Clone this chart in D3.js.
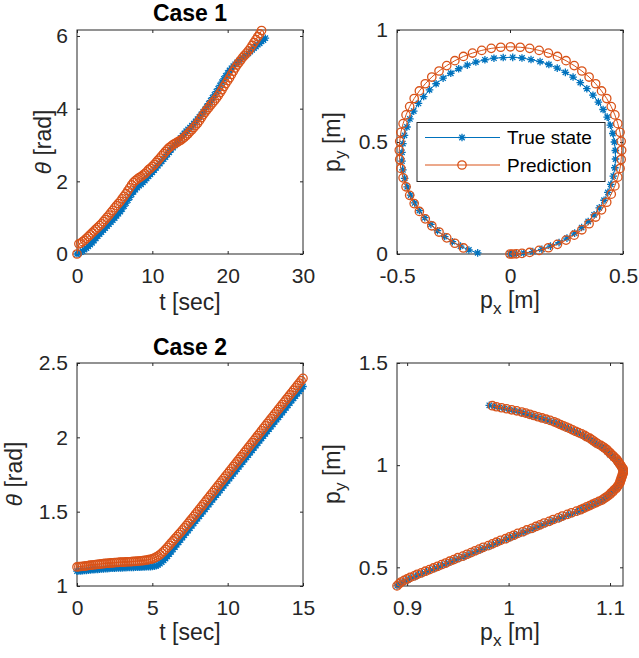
<!DOCTYPE html>
<html>
<head>
<meta charset="utf-8">
<script src="https://cdn.jsdelivr.net/npm/d3@7"></script>
<style>
  body { margin: 0; background: #fff; }
  svg { display: block; }
  text { font-family: "Liberation Sans", Arial, Helvetica, sans-serif; }
</style>
</head>
<body>
<svg id="fig" width="639" height="658"></svg>
<script>
// ---------- Case 1: heading over time (sampled every 0.25 s) ----------
const case1TimeTrue = d3.range(0, 25.001, 0.25);
const case1TimePred = d3.range(0, 24.501, 0.25);
const case1ThetaTrue = [
  0.00,0.02,0.05,0.08,0.12,0.16,0.21,0.26,0.31,0.37,
  0.43,0.49,0.55,0.60,0.66,0.71,0.77,0.82,0.88,0.93,
  0.99,1.05,1.11,1.17,1.24,1.32,1.40,1.48,1.56,1.64,
  1.71,1.77,1.83,1.88,1.92,1.97,2.02,2.08,2.14,2.19,
  2.25,2.31,2.37,2.43,2.49,2.55,2.61,2.67,2.74,2.80,
  2.87,2.93,2.99,3.05,3.12,3.19,3.26,3.32,3.38,3.43,
  3.48,3.53,3.59,3.65,3.71,3.77,3.84,3.91,3.98,4.06,
  4.14,4.22,4.30,4.38,4.47,4.55,4.64,4.73,4.82,4.90,
  4.98,5.05,5.11,5.17,5.22,5.27,5.32,5.36,5.40,5.44,
  5.48,5.52,5.57,5.62,5.67,5.71,5.76,5.80,5.85,5.89,
  5.94];
const case1ThetaPred = [
  0.00,0.28,0.30,0.34,0.38,0.43,0.48,0.53,0.58,0.63,
  0.68,0.73,0.78,0.83,0.89,0.95,1.01,1.07,1.14,1.20,
  1.27,1.33,1.39,1.45,1.52,1.59,1.66,1.74,1.82,1.90,
  1.97,2.02,2.06,2.10,2.13,2.17,2.21,2.26,2.32,2.36,
  2.41,2.46,2.52,2.58,2.64,2.70,2.76,2.82,2.88,2.93,
  2.97,3.01,3.04,3.07,3.10,3.13,3.17,3.21,3.26,3.31,
  3.37,3.42,3.48,3.54,3.60,3.67,3.75,3.83,3.90,3.97,
  4.03,4.10,4.16,4.22,4.29,4.36,4.44,4.52,4.61,4.69,
  4.77,4.85,4.94,5.03,5.12,5.20,5.27,5.34,5.41,5.47,
  5.53,5.59,5.66,5.74,5.82,5.90,5.98,6.06,
  6.15];

// ---------- Case 1: planar position ----------
const case1PxTrue = [0.000,0.007,0.028,0.061,0.101,0.141,0.179,0.217,0.252,0.286,
  0.317,0.346,0.372,0.395,0.416,0.433,0.446,0.457,0.464,0.467,
  0.466,0.462,0.455,0.444,0.430,0.412,0.391,0.367,0.340,0.311,
  0.279,0.245,0.209,0.172,0.133,0.093,0.053,0.012,-0.030,-0.071,
  -0.111,-0.151,-0.189,-0.227,-0.262,-0.296,-0.327,-0.356,-0.382,-0.405,
  -0.426,-0.443,-0.456,-0.467,-0.474,-0.478,-0.478,-0.474,-0.466,-0.455,
  -0.440,-0.422,-0.401,-0.377,-0.350,-0.321,-0.289,-0.255,-0.219,-0.182,-0.143];
const case1PyTrue = [0.000,0.000,0.001,0.004,0.011,0.021,0.035,0.051,0.071,0.093,
  0.118,0.145,0.175,0.206,0.240,0.275,0.311,0.348,0.385,0.424,
  0.462,0.500,0.538,0.575,0.611,0.645,0.678,0.709,0.738,0.765,
  0.790,0.811,0.830,0.846,0.859,0.868,0.875,0.878,0.877,0.874,
  0.867,0.857,0.843,0.827,0.807,0.785,0.760,0.733,0.703,0.672,
  0.638,0.603,0.567,0.530,0.493,0.454,0.415,0.376,0.338,0.300,
  0.263,0.228,0.194,0.162,0.132,0.104,0.078,0.055,0.035,0.018,0.005];
const case1PxPred = [0.000,0.011,0.028,0.053,0.087,0.129,0.170,0.210,0.248,0.284,
  0.318,0.350,0.379,0.405,0.428,0.448,0.464,0.477,0.487,0.492,
  0.494,0.492,0.487,0.477,0.464,0.448,0.428,0.405,0.379,0.350,
  0.318,0.284,0.248,0.210,0.170,0.129,0.087,0.045,0.002,-0.041,
  -0.083,-0.125,-0.166,-0.206,-0.244,-0.280,-0.314,-0.346,-0.375,-0.401,
  -0.424,-0.444,-0.460,-0.473,-0.483,-0.488,-0.490,-0.488,-0.483,-0.473,
  -0.460,-0.444,-0.424,-0.401,-0.375,-0.346,-0.314,-0.280,-0.244,-0.206];
const case1PyPred = [0.000,0.000,0.001,0.003,0.007,0.016,0.028,0.043,0.062,0.084,
  0.108,0.135,0.165,0.197,0.231,0.267,0.304,0.343,0.382,0.422,
  0.463,0.503,0.543,0.582,0.621,0.658,0.694,0.728,0.760,0.790,
  0.817,0.841,0.863,0.882,0.897,0.909,0.918,0.923,0.925,0.923,
  0.918,0.909,0.897,0.882,0.863,0.841,0.817,0.790,0.760,0.728,
  0.694,0.658,0.621,0.582,0.543,0.503,0.463,0.422,0.382,0.340,
  0.300,0.262,0.225,0.190,0.157,0.126,0.098,0.072,0.048,0.027];

// ---------- Case 2: heading over time (sampled every 0.125 s) ----------
const case2Time = d3.range(0, 15.001, 0.125);
const case2ThetaTrue = [
  1.100,1.101,1.102,1.103,1.104,1.105,1.106,1.108,
  1.109,1.110,1.111,1.112,1.113,1.114,1.115,1.116,
  1.117,1.118,1.119,1.119,1.120,1.121,1.121,1.122,
  1.122,1.123,1.123,1.124,1.124,1.125,1.125,1.126,
  1.126,1.127,1.127,1.128,1.128,1.129,1.129,1.130,
  1.131,1.133,1.136,1.142,1.150,1.160,1.172,1.185,
  1.200,1.215,1.230,1.246,1.262,1.278,1.294,1.310,
  1.326,1.342,1.358,1.373,1.389,1.405,1.421,1.437,
  1.453,1.469,1.485,1.500,1.516,1.532,1.548,1.564,
  1.580,1.596,1.612,1.627,1.643,1.659,1.675,1.691,
  1.707,1.723,1.739,1.754,1.770,1.786,1.802,1.818,
  1.834,1.850,1.866,1.881,1.897,1.913,1.929,1.945,
  1.961,1.977,1.993,2.008,2.024,2.040,2.056,2.072,
  2.088,2.104,2.120,2.135,2.151,2.167,2.183,2.199,
  2.215,2.231,2.247,2.262,2.278,2.294,2.310,2.326,
  2.342];
const case2ThetaPred = [
  1.128,1.130,1.131,1.133,1.134,1.136,1.138,1.140,
  1.141,1.143,1.144,1.146,1.147,1.149,1.150,1.152,
  1.153,1.154,1.155,1.156,1.157,1.158,1.159,1.160,
  1.160,1.161,1.162,1.163,1.163,1.164,1.165,1.166,
  1.167,1.168,1.170,1.171,1.173,1.175,1.177,1.180,
  1.183,1.188,1.194,1.201,1.210,1.221,1.233,1.246,
  1.260,1.274,1.289,1.303,1.318,1.332,1.347,1.361,
  1.376,1.391,1.406,1.421,1.437,1.452,1.468,1.484,
  1.500,1.516,1.532,1.548,1.564,1.580,1.596,1.612,
  1.628,1.644,1.660,1.676,1.692,1.708,1.724,1.740,
  1.756,1.772,1.788,1.804,1.820,1.836,1.852,1.868,
  1.884,1.900,1.916,1.932,1.948,1.964,1.980,1.996,
  2.012,2.028,2.044,2.061,2.077,2.093,2.109,2.125,
  2.141,2.157,2.173,2.189,2.205,2.221,2.237,2.253,
  2.269,2.285,2.301,2.317,2.333,2.349,2.365,2.381,
  2.397];

// ---------- Case 2: planar position (same 0.125 s samples) ----------
const case2PxTrue = [
  0.890,0.892,0.895,0.898,0.901,0.904,0.908,0.911,0.915,0.919,
  0.923,0.927,0.931,0.935,0.939,0.943,0.947,0.951,0.956,0.960,
  0.964,0.968,0.972,0.976,0.981,0.985,0.989,0.993,0.998,1.002,
  1.006,1.010,1.015,1.019,1.024,1.028,1.032,1.036,1.041,1.045,
  1.050,1.054,1.059,1.063,1.068,1.071,1.074,1.077,1.080,1.083,
  1.086,1.089,1.092,1.094,1.096,1.097,1.099,1.100,1.102,1.103,
  1.105,1.106,1.108,1.108,1.109,1.110,1.110,1.111,1.111,1.112,
  1.112,1.112,1.112,1.112,1.111,1.110,1.110,1.108,1.107,1.106,
  1.105,1.103,1.102,1.100,1.099,1.097,1.096,1.094,1.092,1.090,
  1.087,1.085,1.083,1.081,1.079,1.076,1.074,1.071,1.068,1.065,
  1.062,1.059,1.056,1.053,1.050,1.047,1.044,1.040,1.036,1.032,
  1.027,1.023,1.019,1.015,1.011,1.006,1.001,0.996,0.991,0.986,
  0.981];
const case2PyTrue = [
  0.409,0.417,0.425,0.433,0.440,0.448,0.455,0.463,0.470,0.478,
  0.486,0.494,0.502,0.510,0.518,0.527,0.535,0.544,0.552,0.561,
  0.569,0.578,0.586,0.595,0.603,0.612,0.620,0.629,0.637,0.646,
  0.654,0.663,0.671,0.680,0.688,0.697,0.705,0.714,0.722,0.731,
  0.739,0.748,0.756,0.764,0.772,0.779,0.786,0.793,0.799,0.806,
  0.813,0.820,0.826,0.833,0.840,0.848,0.855,0.862,0.869,0.877,
  0.884,0.891,0.898,0.906,0.913,0.921,0.928,0.935,0.942,0.950,
  0.957,0.965,0.972,0.979,0.986,0.994,1.001,1.009,1.016,1.023,
  1.030,1.038,1.045,1.052,1.059,1.067,1.074,1.081,1.088,1.095,
  1.102,1.109,1.116,1.123,1.130,1.137,1.144,1.151,1.157,1.164,
  1.171,1.178,1.184,1.191,1.198,1.205,1.211,1.218,1.224,1.230,
  1.236,1.242,1.248,1.254,1.260,1.266,1.271,1.277,1.282,1.288,
  1.293];
const case2PxPred = [
  0.890,0.892,0.894,0.897,0.900,0.903,0.907,0.910,0.914,0.918,
  0.922,0.926,0.930,0.934,0.938,0.942,0.946,0.950,0.955,0.959,
  0.963,0.967,0.971,0.975,0.980,0.984,0.988,0.992,0.997,1.001,
  1.005,1.009,1.014,1.018,1.023,1.027,1.031,1.035,1.040,1.044,
  1.049,1.053,1.058,1.062,1.067,1.071,1.074,1.077,1.080,1.083,
  1.086,1.089,1.092,1.094,1.096,1.098,1.100,1.101,1.103,1.104,
  1.106,1.107,1.108,1.109,1.110,1.110,1.111,1.111,1.112,1.112,
  1.113,1.113,1.113,1.113,1.112,1.111,1.110,1.109,1.108,1.107,
  1.106,1.104,1.103,1.101,1.100,1.098,1.097,1.095,1.093,1.091,
  1.088,1.086,1.084,1.082,1.080,1.077,1.075,1.072,1.069,1.066,
  1.063,1.060,1.057,1.054,1.051,1.048,1.045,1.041,1.037,1.033,
  1.029,1.025,1.021,1.017,1.013,1.008,1.003,0.998,0.993,0.988,
  0.984];
const case2PyPred = [
  0.409,0.419,0.428,0.436,0.443,0.451,0.458,0.466,0.473,0.481,
  0.489,0.497,0.505,0.513,0.521,0.530,0.538,0.547,0.555,0.564,
  0.572,0.581,0.589,0.598,0.606,0.615,0.623,0.632,0.640,0.649,
  0.657,0.666,0.674,0.683,0.691,0.700,0.708,0.717,0.725,0.734,
  0.742,0.751,0.759,0.767,0.775,0.782,0.789,0.796,0.802,0.809,
  0.816,0.823,0.829,0.836,0.843,0.850,0.857,0.864,0.871,0.879,
  0.886,0.893,0.900,0.908,0.915,0.923,0.930,0.937,0.944,0.952,
  0.959,0.967,0.974,0.981,0.988,0.996,1.003,1.011,1.018,1.025,
  1.032,1.040,1.047,1.054,1.061,1.069,1.076,1.083,1.090,1.097,
  1.104,1.111,1.118,1.125,1.132,1.139,1.146,1.153,1.159,1.166,
  1.173,1.180,1.186,1.193,1.199,1.206,1.212,1.219,1.225,1.231,
  1.237,1.243,1.249,1.255,1.260,1.266,1.271,1.276,1.281,1.286,
  1.291];

// ---------- Tick values and labels ----------
const timeTicks1 = [0, 10, 20, 30];
const timeTickLabels1 = ["0", "10", "20", "30"];
const thetaTicks1 = [0, 2, 4, 6];
const thetaTickLabels1 = ["0", "2", "4", "6"];
const pxTicks1 = [-0.5, 0, 0.5];
const pxTickLabels1 = ["-0.5", "0", "0.5"];
const pyTicks1 = [0, 0.5, 1];
const pyTickLabels1 = ["0", "0.5", "1"];
const timeTicks2 = [0, 5, 10, 15];
const timeTickLabels2 = ["0", "5", "10", "15"];
const thetaTicks2 = [1, 1.5, 2, 2.5];
const thetaTickLabels2 = ["1", "1.5", "2", "2.5"];
const pxTicks2 = [0.9, 1, 1.1];
const pxTickLabels2 = ["0.9", "1", "1.1"];
const pyTicks2 = [0.5, 1, 1.5];
const pyTickLabels2 = ["0.5", "1", "1.5"];

const seriesNames = ["True state", "Prediction"];
const titles = ["Case 1", "Case 2"];

// ---------- Styling ----------
const BLUE = "#0072BD", ORANGE = "#D95319", AXIS = "#262626";
const TICK_FONT = 21, LABEL_FONT = 23, LEGEND_FONT = 19, TITLE_FONT = 23;
const MARK_STROKE = 1.3;

const svg = d3.select("#fig");

function starPath(r) {
  const a = r * 0.7071;
  return `M${-r},0L${r},0M0,${-r}L0,${r}M${-a},${-a}L${a},${a}M${-a},${a}L${a},${-a}`;
}

function makeAxes(cfg) {
  const { left, top, width, height, xDomain, yDomain, xTicks, xLabels, yTicks, yLabels } = cfg;
  const x = d3.scaleLinear().domain(xDomain).range([left, left + width]);
  const y = d3.scaleLinear().domain(yDomain).range([top + height, top]);
  const g = svg.append("g");

  const styleAxis = sel => {
    sel.select(".domain").remove();
    sel.selectAll(".tick line").attr("stroke", AXIS).attr("stroke-width", 1);
    sel.selectAll(".tick text").attr("fill", AXIS).attr("font-size", TICK_FONT)
      .attr("font-family", '"Liberation Sans", Arial, Helvetica, sans-serif');
  };

  g.append("g").attr("transform", `translate(0,${top + height})`)
    .call(d3.axisBottom(x).tickValues(xTicks).tickSizeInner(-3).tickSizeOuter(0)
      .tickPadding(14).tickFormat((d, i) => xLabels[i])).call(styleAxis);
  g.append("g").attr("transform", `translate(0,${top})`)
    .call(d3.axisTop(x).tickValues(xTicks).tickSizeInner(-3).tickSizeOuter(0)
      .tickFormat("")).call(styleAxis);
  g.append("g").attr("transform", `translate(${left},0)`)
    .call(d3.axisLeft(y).tickValues(yTicks).tickSizeInner(-3).tickSizeOuter(0)
      .tickPadding(9).tickFormat((d, i) => yLabels[i])).call(styleAxis);
  g.append("g").attr("transform", `translate(${left + width},0)`)
    .call(d3.axisRight(y).tickValues(yTicks).tickSizeInner(-3).tickSizeOuter(0)
      .tickFormat("")).call(styleAxis);

  g.append("rect").attr("x", left).attr("y", top).attr("width", width).attr("height", height)
    .attr("fill", "none").attr("stroke", AXIS).attr("stroke-width", 1);

  return { g, x, y };
}

function drawSeries(ax, xs, ys, color, marker) {
  const pts = xs.map((v, i) => [ax.x(v), ax.y(ys[i])]);
  const s = ax.g.append("g");
  s.append("path").attr("d", d3.line()(pts)).attr("fill", "none")
    .attr("stroke", color).attr("stroke-width", 1);
  if (marker === "star") {
    s.selectAll(null).data(pts).join("path")
      .attr("d", starPath(3.8))
      .attr("transform", d => `translate(${d[0]},${d[1]})`)
      .attr("fill", "none").attr("stroke", color).attr("stroke-width", MARK_STROKE);
  } else {
    s.selectAll(null).data(pts).join("circle")
      .attr("cx", d => d[0]).attr("cy", d => d[1]).attr("r", 4.2)
      .attr("fill", "none").attr("stroke", color).attr("stroke-width", MARK_STROKE);
  }
}

function addParts(t, parts) {
  parts.forEach(p => {
    const ts = t.append("tspan").text(p.text);
    if (p.italic) ts.attr("font-style", "italic");
    if (p.sub) ts.attr("font-size", LABEL_FONT * 0.75).attr("dy", 6);
    if (p.after) ts.attr("dy", -6);
  });
}

function xLabel(cx, baseline, parts) {
  const t = svg.append("text").attr("x", cx).attr("y", baseline)
    .attr("text-anchor", "middle").attr("font-size", LABEL_FONT).attr("fill", AXIS);
  addParts(t, parts);
}

function yLabel(baselineX, cy, parts) {
  const t = svg.append("text")
    .attr("transform", `translate(${baselineX},${cy}) rotate(-90)`)
    .attr("text-anchor", "middle").attr("font-size", LABEL_FONT).attr("fill", AXIS);
  addParts(t, parts);
}

function title(cx, baseline, text) {
  svg.append("text").attr("x", cx).attr("y", baseline).attr("text-anchor", "middle")
    .attr("font-size", TITLE_FONT).attr("font-weight", "bold").attr("fill", "#000").text(text);
}

// ---------- Panel: Case 1 heading ----------
const a1 = makeAxes({ left: 77, top: 30, width: 226, height: 224,
  xDomain: [0, 30], yDomain: [0, 6.165],
  xTicks: timeTicks1, xLabels: timeTickLabels1, yTicks: thetaTicks1, yLabels: thetaTickLabels1 });
drawSeries(a1, case1TimeTrue, case1ThetaTrue, BLUE, "star");
drawSeries(a1, case1TimePred, case1ThetaPred, ORANGE, "circle");
title(190, 21, titles[0]);
xLabel(190, 310, [{ text: "t [sec]" }]);
yLabel(51, 142, [{ text: "θ", italic: true }, { text: " [rad]" }]);

// ---------- Panel: Case 1 position ----------
const a2 = makeAxes({ left: 397, top: 30, width: 226, height: 224,
  xDomain: [-0.5, 0.5], yDomain: [0, 1],
  xTicks: pxTicks1, xLabels: pxTickLabels1, yTicks: pyTicks1, yLabels: pyTickLabels1 });
drawSeries(a2, case1PxTrue, case1PyTrue, BLUE, "star");
drawSeries(a2, case1PxPred, case1PyPred, ORANGE, "circle");
xLabel(510, 308, [{ text: "p" }, { text: "x", sub: true }, { text: " [m]", after: true }]);
yLabel(340, 142, [{ text: "p" }, { text: "y", sub: true }, { text: " [m]", after: true }]);

// Legend
const lg = svg.append("g");
lg.append("rect").attr("x", 417).attr("y", 122.5).attr("width", 188).attr("height", 59)
  .attr("fill", "#fff").attr("stroke", AXIS).attr("stroke-width", 1);
[[BLUE, "star", 137.5], [ORANGE, "circle", 165]].forEach(([c, m, yy], i) => {
  lg.append("line").attr("x1", 425).attr("x2", 500).attr("y1", yy).attr("y2", yy)
    .attr("stroke", c).attr("stroke-width", 1);
  if (m === "star") {
    lg.append("path").attr("d", starPath(3.8)).attr("transform", `translate(462,${yy})`)
      .attr("fill", "none").attr("stroke", c).attr("stroke-width", MARK_STROKE);
  } else {
    lg.append("circle").attr("cx", 462).attr("cy", yy).attr("r", 4.2)
      .attr("fill", "none").attr("stroke", c).attr("stroke-width", MARK_STROKE);
  }
  lg.append("text").attr("x", 507).attr("y", yy).attr("dy", "0.36em")
    .attr("font-size", LEGEND_FONT).attr("fill", "#000").text(seriesNames[i]);
});

// ---------- Panel: Case 2 heading ----------
const a3 = makeAxes({ left: 77, top: 363, width: 226, height: 223,
  xDomain: [0, 15], yDomain: [1, 2.5],
  xTicks: timeTicks2, xLabels: timeTickLabels2, yTicks: thetaTicks2, yLabels: thetaTickLabels2 });
drawSeries(a3, case2Time, case2ThetaTrue, BLUE, "star");
drawSeries(a3, case2Time, case2ThetaPred, ORANGE, "circle");
title(190, 355, titles[1]);
xLabel(190, 640, [{ text: "t [sec]" }]);
yLabel(22, 474, [{ text: "θ", italic: true }, { text: " [rad]" }]);

// ---------- Panel: Case 2 position ----------
const a4 = makeAxes({ left: 397, top: 363, width: 226, height: 223,
  xDomain: [0.89, 1.1128], yDomain: [0.4086, 1.5],
  xTicks: pxTicks2, xLabels: pxTickLabels2, yTicks: pyTicks2, yLabels: pyTickLabels2 });
drawSeries(a4, case2PxTrue, case2PyTrue, BLUE, "star");
drawSeries(a4, case2PxPred, case2PyPred, ORANGE, "circle");
xLabel(510, 640, [{ text: "p" }, { text: "x", sub: true }, { text: " [m]", after: true }]);
yLabel(340, 474, [{ text: "p" }, { text: "y", sub: true }, { text: " [m]", after: true }]);
</script>
</body>
</html>
